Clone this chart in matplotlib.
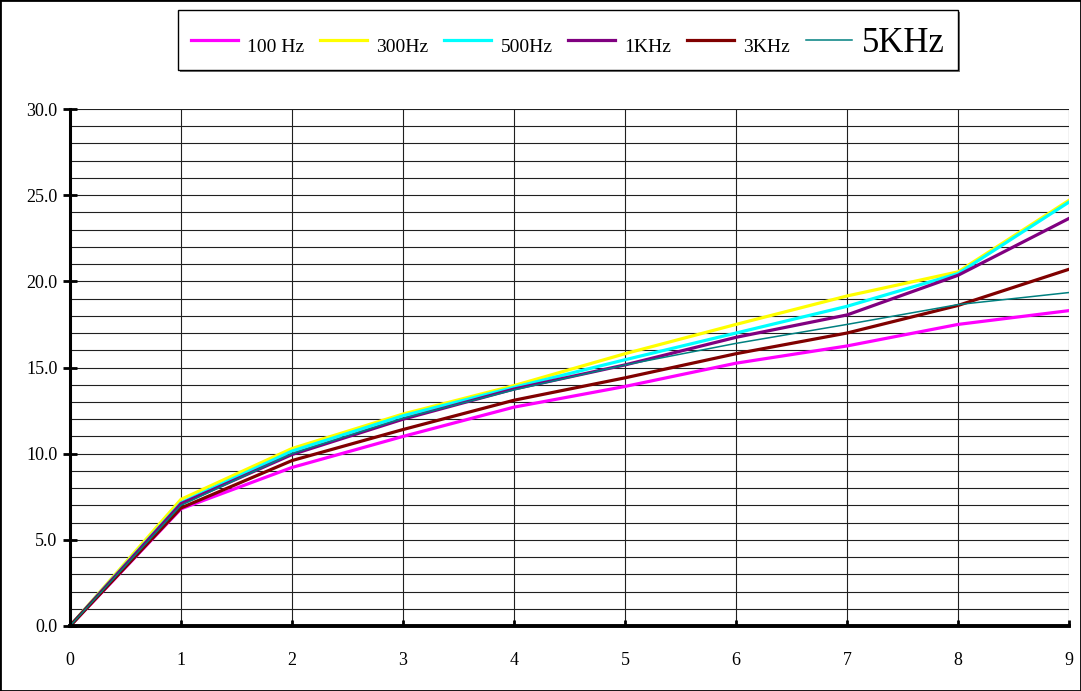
import matplotlib
matplotlib.use("Agg")
import matplotlib.pyplot as plt
from matplotlib.patches import Rectangle
from matplotlib.legend_handler import HandlerLine2D

x_vals = [0, 1, 2, 3, 4, 5, 6, 7, 8, 9]
labels = ["100 Hz", "300Hz", "500Hz", "1KHz", "3KHz", "5KHz"]
hz100 = [0, 6.8, 9.2, 11.0, 12.7, 13.9, 15.25, 16.25, 17.5, 18.3]
hz300 = [0, 7.35, 10.3, 12.3, 13.95, 15.8, 17.5, 19.15, 20.55, 24.7]
hz500 = [0, 7.15, 10.15, 12.2, 13.85, 15.45, 17.0, 18.55, 20.45, 24.6]
khz1 = [0, 7.1, 9.95, 12.0, 13.75, 15.15, 16.75, 18.05, 20.35, 23.65]
khz3 = [0, 6.85, 9.6, 11.4, 13.1, 14.4, 15.8, 17.0, 18.6, 20.7]
khz5 = [0, 7.0, 10.0, 12.05, 13.7, 15.15, 16.4, 17.5, 18.65, 19.35]
series = [hz100, hz300, hz500, khz1, khz3, khz5]
colors = ["#FF00FF", "#FFFF00", "#00FFFF", "#800080", "#800000", "#008080"]
widths = [2.3, 2.3, 2.3, 2.3, 2.3, 1.1]
y_ticks = [0, 5, 10, 15, 20, 25, 30]
y_ticklabels = ["0.0", "5.0", "10.0", "15.0", "20.0", "25.0", "30.0"]

plt.rcParams['font.family'] = ['Liberation Serif', 'DejaVu Serif']


class UpLine(HandlerLine2D):
    def create_artists(self, legend, orig_handle, xdescent, ydescent,
                       width, height, fontsize, trans):
        arts = super().create_artists(legend, orig_handle, xdescent, ydescent,
                                      width, height, fontsize, trans)
        for a in arts:
            yd = a.get_ydata()
            a.set_ydata([v + 4 for v in yd])
        return arts


fig = plt.figure(figsize=(10.81, 6.91), dpi=100)
ax = fig.add_axes([70/1081, 65/691, 999/1081, 517/691])

handles = []
for ys, c, lw, lab in zip(series, colors, widths, labels):
    h, = ax.plot(x_vals, ys, color=c, lw=lw, label=lab, zorder=3, solid_joinstyle='miter')
    handles.append(h)

ax.set_xlim(0, 9)
ax.set_ylim(0, 30)
ax.set_xticks(x_vals)
ax.set_xticklabels([str(v) for v in x_vals])
ax.set_yticks(y_ticks)
ax.set_yticklabels(y_ticklabels)
ax.set_yticks(list(range(0, 31)), minor=True)
ax.grid(True, which='both', axis='y', color='#202020', lw=0.8, zorder=1)
ax.grid(True, which='major', axis='x', color='#202020', lw=0.8, zorder=1)
ax.tick_params(axis='y', which='minor', length=0)
ax.tick_params(axis='y', which='major', direction='inout', length=10, width=2, labelsize=13, pad=4)
ax.tick_params(axis='x', which='major', direction='in', length=4, width=2, labelsize=13, pad=19)
for s in ['top', 'right']:
    ax.spines[s].set_visible(False)
ax.spines['left'].set_linewidth(2.2)
ax.spines['bottom'].set_linewidth(2.8)
ax.spines['left'].set_zorder(4)
ax.spines['bottom'].set_zorder(4)

# legend box
bx0, by0 = 178/1081, (691-70)/691
bw, bh = (958-178)/1081, 60/691
fig.patches.append(Rectangle((bx0 + 2/1081, by0 - 2/691), bw, bh, transform=fig.transFigure,
                             facecolor='#777777', edgecolor='none', zorder=0))
fig.patches.append(Rectangle((bx0, by0), bw, bh, transform=fig.transFigure,
                             facecolor='white', edgecolor='black', lw=1, zorder=1))
leg = fig.legend(handles=handles, labels=labels, loc='center',
                 bbox_to_anchor=(bx0 + bw/2, by0 + bh/2 - 4/691), ncol=6, frameon=False,
                 fontsize=14, handlelength=2.4, handletextpad=0.5, columnspacing=0.8,
                 handler_map={h: UpLine() for h in handles})
leg.get_texts()[5].set_fontsize(25)

# figure border
fig.patches.append(Rectangle((0, 0), 1, 1, transform=fig.transFigure, fill=False,
                             edgecolor='black', lw=2, zorder=2))

fig.savefig("out.png", dpi=100)
